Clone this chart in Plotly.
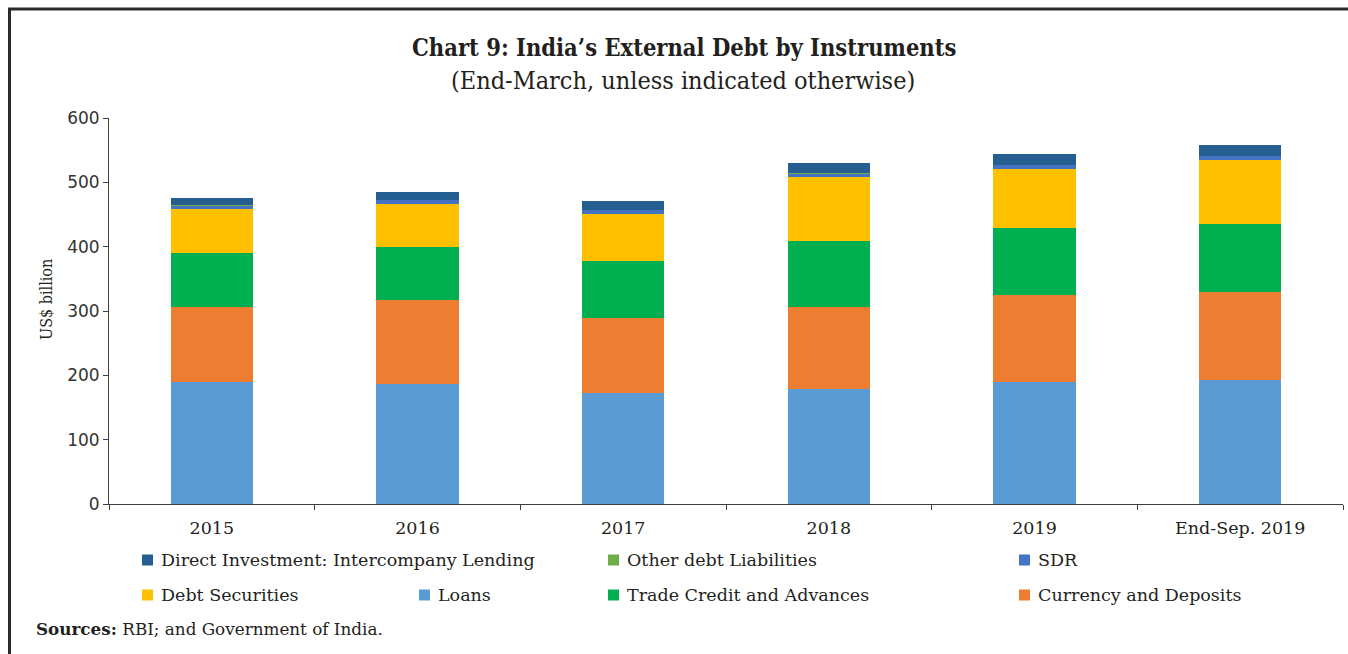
import plotly.graph_objects as go

# ---- data (US$ billion) ----
periods = ["2015", "2016", "2017", "2018", "2019", "End-Sep. 2019"]

loans = [189.6, 186.5, 172.5, 178.8, 189.6, 192.8]
currency_deposits = [116.6, 130.5, 116.6, 127.4, 135.3, 136.7]
trade_credit = [84.0, 82.5, 88.6, 103.1, 104.6, 106.2]
debt_securities = [68.4, 66.8, 73.1, 99.5, 91.7, 99.0]
sdr = [5.1, 6.3, 6.2, 5.2, 5.8, 6.3]
other_debt = [0.4, 0.4, 0.4, 0.4, 0.4, 0.4]
direct_investment = [11.1, 12.5, 14.1, 16.2, 16.2, 16.7]

y_ticks = [0, 100, 200, 300, 400, 500, 600]

# stacking order, bottom to top
series = [
    ("Loans", loans, "#5B9BD5"),
    ("Currency and Deposits", currency_deposits, "#ED7D31"),
    ("Trade Credit and Advances", trade_credit, "#00B050"),
    ("Debt Securities", debt_securities, "#FFC000"),
    ("SDR", sdr, "#4472C4"),
    ("Other debt Liabilities", other_debt, "#70AD47"),
    ("Direct Investment: Intercompany Lending", direct_investment, "#255E91"),
]
colors = {name: c for name, _, c in series}

# ---- page geometry (pixels) ----
W, H = 1348, 654
PLOT_L, PLOT_R, PLOT_T, PLOT_B = 109, 1343, 118, 504


def px(x):
    return (x - PLOT_L) / (PLOT_R - PLOT_L)


def py(y):
    return (PLOT_B - y) / (PLOT_B - PLOT_T)


TEXT = "#231F20"
SERIF = "DejaVu Serif"
SERIF_C = "DejaVu Serif Condensed"

fig = go.Figure()
for name, vals, col in series:
    fig.add_trace(go.Bar(
        x=periods, y=vals, name=name,
        marker=dict(color=col, line=dict(width=0)),
        showlegend=False,
    ))

fig.update_layout(
    width=W, height=H,
    barmode="stack", bargap=0.6,
    paper_bgcolor="white", plot_bgcolor="white",
    margin=dict(l=PLOT_L, r=W - PLOT_R, t=PLOT_T, b=H - PLOT_B, pad=0),
    font=dict(family=SERIF, color=TEXT),
    xaxis=dict(
        showline=True, linecolor="#404040", linewidth=1,
        ticks="outside", ticklen=5, tickcolor="#404040", tickson="boundaries",
        tickfont=dict(family=SERIF, size=17.5, color=TEXT),
        ticklabelstandoff=8,
        showgrid=False, zeroline=False,
    ),
    yaxis=dict(
        range=[0, 600], tickvals=y_ticks,
        showline=True, linecolor="#404040", linewidth=1,
        ticks="outside", ticklen=5, tickcolor="#404040",
        tickfont=dict(family="DejaVu Sans", size=17, color="#333333"),
        showgrid=False, zeroline=False,
    ),
)

annotations = [
    dict(text="<b>Chart 9: India’s External Debt by Instruments</b>",
         x=px(684), y=py(48), font=dict(family=SERIF_C, size=23.5, color=TEXT)),
    dict(text="(End-March, unless indicated otherwise)",
         x=px(683), y=py(80), font=dict(family=SERIF_C, size=25, color=TEXT)),
    dict(text="<b>Sources:</b> RBI; and Government of India.",
         x=px(34), y=py(629), xanchor="left",
         font=dict(family=SERIF, size=16.8, color=TEXT)),
    dict(text="US$ billion", textangle=-90,
         x=px(46), y=py(300),
         font=dict(family=SERIF_C, size=16, color=TEXT)),
]

# legend entries: (name, marker left px, row centre px)
legend_layout = [
    ("Direct Investment: Intercompany Lending", 142, 560),
    ("Other debt Liabilities", 608, 560),
    ("SDR", 1019, 560),
    ("Debt Securities", 142, 595),
    ("Loans", 419, 595),
    ("Trade Credit and Advances", 608, 595),
    ("Currency and Deposits", 1019, 595),
]
shapes = []
for name, left, cy in legend_layout:
    shapes.append(dict(type="rect", xref="paper", yref="paper",
                       x0=px(left), x1=px(left + 11), y0=py(cy + 5.5), y1=py(cy - 5.5),
                       fillcolor=colors[name], line=dict(width=0)))
    annotations.append(dict(text=name, x=px(left + 17), y=py(cy), xanchor="left",
                            font=dict(family=SERIF, size=17.5, color=TEXT)))

for a in annotations:
    a.setdefault("xanchor", "center")
    a.update(xref="paper", yref="paper", yanchor="middle", showarrow=False)

# outer frame (left and top rules)
shapes.append(dict(type="line", xref="paper", yref="paper",
                   x0=px(9.5), x1=px(9.5), y0=py(8), y1=py(H + 2),
                   line=dict(color="#2B2B2B", width=3)))
shapes.append(dict(type="line", xref="paper", yref="paper",
                   x0=px(8), x1=px(W + 2), y0=py(9), y1=py(9),
                   line=dict(color="#2B2B2B", width=3)))

fig.update_layout(annotations=annotations, shapes=shapes)

fig.write_html("out.html")
